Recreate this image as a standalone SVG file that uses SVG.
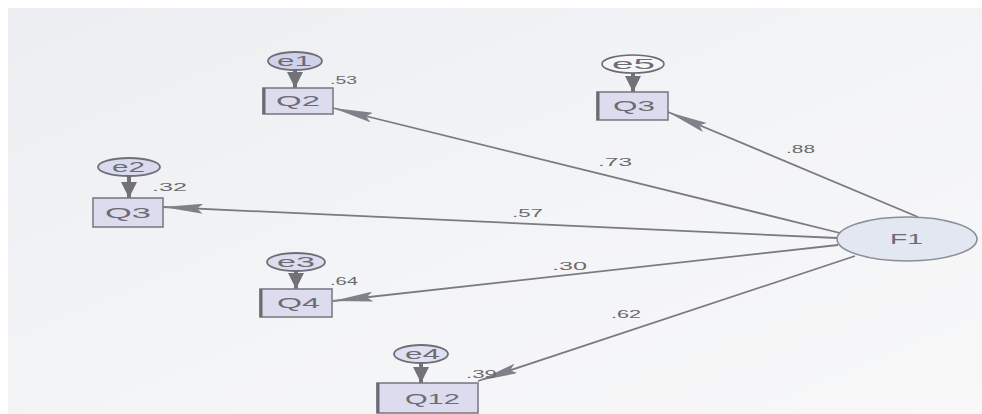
<svg xmlns="http://www.w3.org/2000/svg" width="982" height="414" viewBox="0 0 982 414">
<defs>
<style>
.lbl{font-family:"Liberation Sans",Arial,sans-serif;font-size:11.5px;fill:#6a6a6a}
.nm{font-family:"Liberation Sans",Arial,sans-serif;font-size:14.5px;fill:#6c6c74}
.box{fill:#dcdcee;stroke:#7c7c86;stroke-width:1.6}
.err{fill:#d0d2ea;stroke:#6e6e78;stroke-width:1.8}
.lat{fill:#e3e7f2;stroke:#8a8e98;stroke-width:1.6}
.edge{stroke:#6a6a72;stroke-width:3}
.path{stroke:#7a7a82;stroke-width:1.8;fill:none}
.eline{stroke:#727278;stroke-width:4;fill:none}
</style>
<marker id="ah" markerUnits="userSpaceOnUse" markerWidth="40" markerHeight="10" refX="40" refY="5" orient="auto">
<path d="M0,0 L40,5 L0,10 L6,5 z" fill="#808088"/>
</marker>
<marker id="eh" markerUnits="userSpaceOnUse" markerWidth="16" markerHeight="16" refX="16" refY="8" orient="auto">
<path d="M0,0 L16,8 L0,16 z" fill="#727278"/>
</marker>
<linearGradient id="bg" x1="0" y1="0" x2="1" y2="1">
<stop offset="0" stop-color="#eceef1"/>
<stop offset="0.5" stop-color="#f3f4f6"/>
<stop offset="1" stop-color="#f8f8f9"/>
</linearGradient>
</defs>
<rect x="0" y="0" width="982" height="414" fill="#ffffff"/>
<rect x="8" y="8" width="974" height="406" fill="url(#bg)"/>
<g id="connectors">
<line class="path" x1="840" y1="233" x2="333" y2="108" marker-end="url(#ah)"/>
<line class="path" x1="918" y1="217" x2="668" y2="112" marker-end="url(#ah)"/>
<line class="path" x1="837" y1="238" x2="163" y2="207" marker-end="url(#ah)"/>
<line class="path" x1="838" y1="245" x2="333" y2="301" marker-end="url(#ah)"/>
<line class="path" x1="855" y1="256" x2="478" y2="381" marker-end="url(#ah)"/>
<line class="eline" x1="295" y1="70" x2="295" y2="88" marker-end="url(#eh)"/>
<line class="eline" x1="633" y1="73" x2="633" y2="92" marker-end="url(#eh)"/>
<line class="eline" x1="129" y1="176" x2="129" y2="198" marker-end="url(#eh)"/>
<line class="eline" x1="296" y1="271" x2="296" y2="289" marker-end="url(#eh)"/>
<line class="eline" x1="421" y1="363" x2="421" y2="383" marker-end="url(#eh)"/>
</g>
<g id="e1"><ellipse class="err" cx="295" cy="61" rx="27" ry="9"/><text class="nm" x="277" y="66" textLength="35" lengthAdjust="spacingAndGlyphs">e1</text></g>
<g id="Q2"><rect class="box" x="263" y="88" width="70" height="26"/><line class="edge" x1="264" y1="88" x2="264" y2="114"/><text class="nm" x="276" y="106" textLength="44" lengthAdjust="spacingAndGlyphs">Q2</text></g>
<g id="e5"><ellipse class="lat" cx="633" cy="64" rx="31" ry="9" style="fill:#f4f6f8;stroke:#6a6a70"/><text class="nm" x="612" y="69" textLength="43" lengthAdjust="spacingAndGlyphs">e5</text></g>
<g id="Q3a"><rect class="box" x="597" y="92" width="71" height="28"/><line class="edge" x1="598" y1="92" x2="598" y2="120"/><text class="nm" x="613" y="111" textLength="42" lengthAdjust="spacingAndGlyphs">Q3</text></g>
<g id="e2"><ellipse class="err" cx="129" cy="167" rx="31" ry="9" style="fill:#d8dbee"/><text class="nm" x="112" y="172" textLength="33" lengthAdjust="spacingAndGlyphs">e2</text></g>
<g id="Q3b"><rect class="box" x="93" y="198" width="70" height="29"/><text class="nm" x="105" y="218" textLength="46" lengthAdjust="spacingAndGlyphs">Q3</text></g>
<g id="e3"><ellipse class="err" cx="296" cy="262" rx="29" ry="9" style="fill:#dcdeef"/><text class="nm" x="277" y="267" textLength="38" lengthAdjust="spacingAndGlyphs">e3</text></g>
<g id="Q4"><rect class="box" x="260" y="289" width="72" height="28"/><line class="edge" x1="261" y1="289" x2="261" y2="317"/><text class="nm" x="277" y="308" textLength="43" lengthAdjust="spacingAndGlyphs">Q4</text></g>
<g id="e4"><ellipse class="err" cx="421" cy="354" rx="27" ry="9" style="fill:#dfe1f0"/><text class="nm" x="405" y="359" textLength="35" lengthAdjust="spacingAndGlyphs">e4</text></g>
<g id="Q12"><rect class="box" x="377" y="383" width="101" height="30"/><line class="edge" x1="378" y1="383" x2="378" y2="413"/><text class="nm" x="405" y="404" textLength="55" lengthAdjust="spacingAndGlyphs">Q12</text></g>
<g id="F1"><ellipse class="lat" cx="907" cy="239" rx="70" ry="22"/><text class="nm" x="890" y="244" textLength="33" lengthAdjust="spacingAndGlyphs">F1</text></g>
<g id="labels">
<text class="lbl" x="330" y="84" textLength="27" lengthAdjust="spacingAndGlyphs">.53</text>
<text class="lbl" x="598" y="166" textLength="34" lengthAdjust="spacingAndGlyphs">.73</text>
<text class="lbl" x="786" y="153" textLength="29" lengthAdjust="spacingAndGlyphs">.88</text>
<text class="lbl" x="152" y="191" textLength="35" lengthAdjust="spacingAndGlyphs">.32</text>
<text class="lbl" x="512" y="217" textLength="31" lengthAdjust="spacingAndGlyphs">.57</text>
<text class="lbl" x="330" y="285" textLength="28" lengthAdjust="spacingAndGlyphs">.64</text>
<text class="lbl" x="552" y="270" textLength="35" lengthAdjust="spacingAndGlyphs">.30</text>
<text class="lbl" x="611" y="318" textLength="30" lengthAdjust="spacingAndGlyphs">.62</text>
<text class="lbl" x="466" y="378" textLength="31" lengthAdjust="spacingAndGlyphs">.39</text>
</g>
</svg>
